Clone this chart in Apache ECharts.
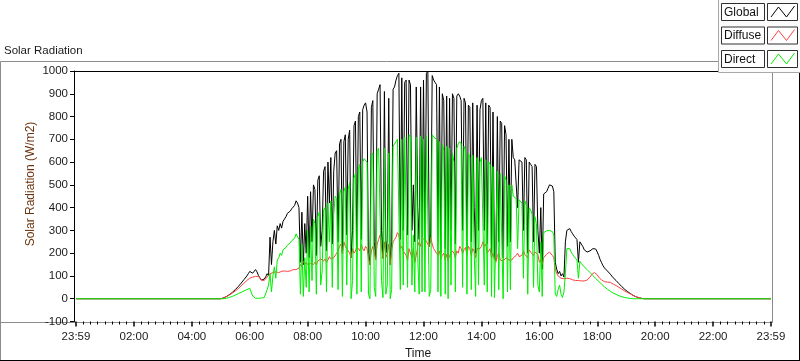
<!DOCTYPE html>
<html><head><meta charset="utf-8">
<script src="https://cdn.jsdelivr.net/npm/echarts@6/dist/echarts.min.js"></script>
<style>html,body{margin:0;padding:0;background:#fff}#c{width:800px;height:361px}</style>
</head><body><div id="c"></div>
<script>
// ---- data (W/m2), 3-minute samples starting 05:00 ----
const seriesNames = ['Global', 'Diffuse', 'Direct'];
const seriesColors = ['#000000', '#ff4040', '#00ee00'];
const startHour = 5;
const stepHours = 0.05;
const axisStartHour = 0;
const axisEndHour = 24;
const nightValue = 0;
const yMin = -100, yMax = 1000, yInterval = 100;
const xInterval = 2;

const globalVals = [
  0, 2, 4, 7, 10, 14, 18, 23, 28, 33, 40, 46, 53, 60, 68, 76, 84, 92, 100, 110,
  120, 125, 112, 116, 128, 118, 102, 92, 82, 78, 86, 96, 110, 100, 270, 150, 250, 300, 240, 320,
  300, 330, 310, 340, 335, 360, 375, 370, 385, 395, 400, 410, 430, 420, 400, 160, 380, 150, 330, 200,
  450, 180, 470, 250, 500, 480, 190, 520, 540, 230, 300, 560, 580, 210, 600, 420, 620, 240, 560, 640,
  650, 250, 680, 700, 200, 690, 720, 280, 700, 740, 180, 300, 760, 780, 220, 800, 820, 260, 830, 850,
  860, 820, 200, 150, 840, 870, 250, 180, 900, 920, 940, 300, 180, 910, 200, 260, 880, 150, 250, 920,
  930, 960, 980, 990, 260, 970, 300, 950, 960, 280, 960, 940, 300, 500, 250, 930, 400, 260, 930, 270,
  960, 250, 990, 1000, 230, 280, 980, 960, 950, 940, 250, 930, 200, 900, 870, 220, 890, 180, 880, 300,
  900, 880, 240, 890, 900, 890, 870, 300, 880, 860, 220, 850, 840, 250, 860, 400, 200, 850, 300, 830,
  870, 880, 300, 860, 240, 850, 840, 200, 820, 180, 170, 800, 250, 780, 770, 180, 760, 720, 230, 700,
  250, 700, 620, 610, 615, 400, 610, 605, 600, 300, 620, 610, 200, 600, 590, 580, 250, 590, 580, 300,
  200, 400, 130, 460, 465, 470, 485, 500, 505, 495, 470, 160, 130, 110, 120, 100, 110, 95, 250, 300,
  305, 308, 295, 285, 275, 268, 260, 160, 250, 240, 230, 215, 210, 205, 208, 210, 215, 220, 225, 218,
  205, 190, 172, 158, 145, 135, 128, 122, 115, 108, 100, 92, 85, 80, 73, 66, 59, 53, 47, 41,
  36, 31, 26, 22, 18, 14, 11, 8, 6, 4, 2, 1, 0, 0, 0, 0
];

const diffuseVals = [
  0, 2, 4, 7, 10, 13, 17, 21, 25, 29, 34, 39, 44, 50, 56, 62, 68, 74, 80, 86,
  90, 92, 95, 95, 98, 100, 98, 92, 82, 76, 80, 88, 95, 98, 110, 112, 115, 120, 118, 112,
  115, 118, 120, 118, 122, 125, 120, 118, 122, 125, 128, 130, 128, 132, 135, 150, 140, 165, 150, 160,
  150, 145, 155, 160, 150, 160, 150, 165, 160, 175, 170, 165, 175, 160, 170, 185, 175, 170, 180, 175,
  200, 210, 230, 240, 200, 250, 230, 220, 210, 200, 180, 220, 200, 210, 230, 220, 210, 240, 220, 210,
  230, 220, 180, 150, 210, 230, 200, 170, 240, 260, 280, 230, 175, 250, 180, 200, 240, 150, 210, 250,
  260, 270, 290, 280, 220, 230, 210, 200, 190, 170, 220, 200, 180, 220, 160, 190, 230, 250, 230, 260,
  260, 265, 250, 240, 230, 270, 240, 220, 210, 200, 190, 210, 175, 190, 200, 170, 195, 165, 190, 200,
  210, 200, 180, 210, 200, 230, 220, 200, 215, 225, 190, 230, 220, 190, 220, 210, 180, 220, 215, 220,
  230, 250, 230, 240, 200, 210, 220, 180, 200, 175, 160, 190, 200, 170, 175, 165, 170, 180, 175, 170,
  175, 170, 180, 175, 190, 200, 185, 180, 190, 210, 195, 200, 180, 215, 205, 200, 190, 205, 200, 195,
  160, 170, 150, 180, 185, 195, 200, 205, 200, 190, 180, 130, 110, 100, 95, 90, 90, 88, 95, 90,
  90, 88, 85, 83, 82, 80, 80, 80, 79, 78, 78, 78, 80, 82, 86, 95, 105, 112, 115, 112,
  105, 95, 88, 82, 78, 75, 74, 73, 75, 72, 68, 64, 60, 58, 55, 50, 46, 42, 38, 34,
  30, 27, 24, 21, 18, 14, 11, 8, 6, 4, 2, 1, 0, 0, 0, 0
];

const directVals = [
  0, 0, 0, 1, 2, 4, 6, 8, 10, 13, 16, 19, 22, 25, 28, 31, 34, 37, 40, 44,
  46, 48, 12, 4, 2, 2, 2, 2, 3, 3, 5, 10, 40, 60, 110, 30, 100, 140, 90, 170,
  180, 200, 190, 215, 210, 225, 235, 230, 245, 255, 260, 265, 285, 280, 260, 20, 240, 10, 180, 50,
  300, 30, 320, 80, 350, 330, 20, 360, 380, 60, 120, 390, 400, 30, 420, 250, 430, 50, 370, 450,
  440, 40, 460, 480, 10, 470, 490, 60, 480, 510, 0, 80, 530, 550, 20, 570, 590, 30, 600, 615,
  620, 600, 20, 0, 630, 640, 50, 10, 650, 660, 665, 80, 5, 660, 20, 60, 640, 0, 40, 670,
  680, 690, 700, 705, 40, 700, 60, 710, 715, 50, 720, 710, 60, 280, 30, 710, 180, 20, 715, 30,
  700, 30, 715, 720, 10, 40, 720, 710, 705, 700, 30, 690, 10, 680, 650, 20, 670, 0, 660, 60,
  640, 600, 30, 660, 680, 690, 680, 50, 670, 650, 20, 640, 620, 40, 630, 200, 10, 620, 60, 600,
  620, 625, 60, 610, 30, 600, 590, 10, 580, 5, 0, 560, 40, 550, 545, 0, 540, 520, 30, 500,
  40, 500, 450, 445, 440, 220, 435, 430, 420, 90, 430, 410, 20, 400, 390, 370, 50, 360, 330, 60,
  30, 250, 10, 290, 295, 298, 300, 300, 298, 295, 280, 20, 10, 40, 60, 20, 5, 30, 110, 220,
  215, 220, 205, 195, 185, 178, 170, 90, 165, 155, 148, 140, 135, 128, 122, 115, 110, 102, 95, 88,
  82, 76, 70, 64, 58, 52, 47, 42, 37, 33, 29, 25, 22, 19, 16, 13, 11, 9, 7, 5,
  4, 3, 2, 1, 1, 0, 0, 0, 0, 0, 0, 0, 0, 0, 0, 0
];

// ---- build ----
function build(vals) {
  const d = [[axisStartHour, nightValue]];
  vals.forEach((v, i) => d.push([+(startHour + i * stepHours).toFixed(3), v]));
  d.push([axisEndHour, nightValue]);
  return d;
}
const FONT = "'Liberation Sans', Arial, sans-serif";
const chart = echarts.init(document.getElementById('c'), null, {renderer: 'canvas'});

function legendRow(i, yTop) {
  const col = seriesColors[i];
  return [
    {type: 'rect', shape: {x: 721.5, y: yTop + 0.5, width: 43, height: 17},
     style: {fill: '#fff', stroke: '#303030', lineWidth: 1}, z: 101},
    {type: 'text', x: 724, y: yTop + 9.5,
     style: {text: seriesNames[i], font: '12px ' + FONT, fill: '#111',
             textAlign: 'left', textVerticalAlign: 'middle', verticalAlign: 'middle'}, z: 102},
    {type: 'rect', shape: {x: 767.5, y: yTop + 0.5, width: 30, height: 17},
     style: {fill: '#fff', stroke: '#303030', lineWidth: 1}, z: 101},
    {type: 'polyline', shape: {points: [[771, yTop + 14], [778.5, yTop + 4], [786.5, yTop + 14], [794.5, yTop + 3]]},
     style: {stroke: col, lineWidth: 1, fill: null}, z: 102}
  ];
}

const graphics = [
  {type: 'polyline', shape: {points: [[0.5, 360], [0.5, 61.5], [772.5, 61.5], [772.5, 322.5], [0, 322.5]]},
   style: {stroke: '#8c8c8c', lineWidth: 1, fill: null}, z: 0, silent: true},
  {type: 'line', shape: {x1: 0, y1: 360.5, x2: 800, y2: 360.5}, style: {stroke: '#000', lineWidth: 1}},
  {type: 'line', shape: {x1: 799.5, y1: 72, x2: 799.5, y2: 361}, style: {stroke: '#000', lineWidth: 1}},
  {type: 'line', shape: {x1: 74, y1: 71.5, x2: 772, y2: 71.5}, style: {stroke: '#000', lineWidth: 1}, z: 50},
  {type: 'text', x: 4, y: 51, style: {text: 'Solar Radiation', font: '11.5px ' + FONT, fill: '#1a1a1a',
    textAlign: 'left', textVerticalAlign: 'middle', verticalAlign: 'middle'}},
  {type: 'text', x: 31, y: 184, rotation: Math.PI / 2,
   style: {text: 'Solar Radiation (W/m2)', font: '12px ' + FONT, fill: '#6b3410',
           textAlign: 'center', textVerticalAlign: 'middle', verticalAlign: 'middle'}},
  {type: 'text', x: 418, y: 354, style: {text: 'Time', font: '12px ' + FONT, fill: '#1a1a1a',
    textAlign: 'center', textVerticalAlign: 'middle', verticalAlign: 'middle'}},
  {type: 'rect', shape: {x: 718.5, y: -1, width: 82, height: 73.5},
   style: {fill: '#fbfbfb', stroke: '#a8a8a8', lineWidth: 1}, z: 100}
].concat(legendRow(0, 3), legendRow(1, 26.5), legendRow(2, 50));

chart.setOption({
  animation: false,
  backgroundColor: '#ffffff',
  grid: {left: 76, right: 29, top: 71, bottom: 39.5, containLabel: false},
  xAxis: {
    type: 'value', min: axisStartHour, max: axisEndHour, interval: xInterval,
    axisLine: {show: false, onZero: false},
    axisTick: {show: true, length: 5, lineStyle: {color: '#000', width: 1.5}},
    minorTick: {show: true, splitNumber: 8, length: 3, lineStyle: {color: '#000', width: 1}},
    splitLine: {show: false}, minorSplitLine: {show: false},
    axisLabel: {margin: 9, fontFamily: FONT, fontSize: 11.5, color: '#1a1a1a',
      formatter: v => (v === axisStartHour || v === axisEndHour) ? '23:59' : String(v).padStart(2, '0') + ':00'}
  },
  yAxis: {
    type: 'value', min: yMin, max: yMax, interval: yInterval, offset: 2,
    axisLine: {show: true, onZero: false, lineStyle: {color: '#000', width: 1}},
    axisTick: {show: true, length: 4, lineStyle: {color: '#000', width: 1}},
    splitLine: {show: false},
    axisLabel: {margin: 6, fontFamily: FONT, fontSize: 11.5, color: '#1a1a1a',
      formatter: v => String(v)}
  },
  series: [
    {name: seriesNames[0], type: 'line', data: build(globalVals), showSymbol: false, clip: true,
     lineStyle: {color: seriesColors[0], width: 1}, itemStyle: {color: seriesColors[0]}, z: 2},
    {name: seriesNames[1], type: 'line', data: build(diffuseVals), showSymbol: false, clip: true,
     lineStyle: {color: seriesColors[1], width: 1}, itemStyle: {color: seriesColors[1]}, z: 3},
    {name: seriesNames[2], type: 'line', data: build(directVals), showSymbol: false, clip: true,
     lineStyle: {color: seriesColors[2], width: 1}, itemStyle: {color: seriesColors[2]}, z: 4}
  ],
  graphic: graphics
});
</script>
</body></html>
